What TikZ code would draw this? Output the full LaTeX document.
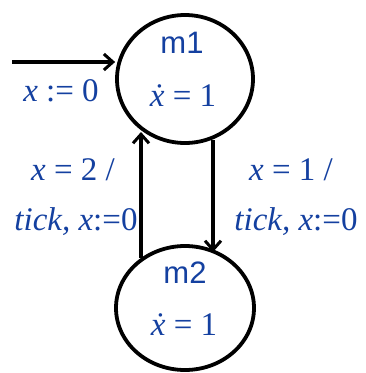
\documentclass[tikz,border=0pt]{standalone}
\usepackage{fontspec}
\setmainfont{Liberation Serif}
\newfontfamily\labsans{Liberation Sans}
\usetikzlibrary{arrows.meta,shapes.geometric}
\definecolor{lblue}{RGB}{20,64,160}
\tikzset{
  st/.style={draw=black, line width=3.8pt, ellipse, minimum width=136pt, minimum height=128pt, inner sep=0pt},
  conn/.style={line width=3.8pt, -{Straight Barb[length=9pt,width=16pt,line width=3pt]}},
  lab/.style={text=lblue, font=\fontsize{33}{34}\selectfont\itshape, inner sep=0pt},
  nm/.style={text=lblue, font=\fontsize{31}{34}\labsans, inner sep=0pt},
}
\begin{document}
\begin{tikzpicture}[x=1pt,y=-1pt]
\useasboundingbox (0,0) rectangle (365,373);
\node[st] (m1) at (185,79) {};
\node[st, minimum width=138pt, minimum height=124pt] (m2) at (185,308) {};
\node[nm] (m1n) at (182,43) {m1};
\node[lab] (m1f) at (183,96) {\.{x} {\upshape=} {\upshape 1}};
\node[nm] (m2n) at (185,273) {m2};
\node[lab] (m2f) at (184,325) {\.{x} {\upshape=} {\upshape 1}};
\coordinate (init) at (12,62);
\draw[conn] (init) -- (m1.west |- init);
\node[lab] (il) at (61,91) {x {\upshape :=} {\upshape 0}};
\coordinate (la) at (141,132);
\coordinate (lb) at (141,258);
\draw[conn] (lb) -- (la);
\coordinate (ra) at (213,140);
\coordinate (rb) at (213,252);
\draw[conn] (ra) -- (rb);
\node[lab] (l1) at (73,170) {x {\upshape = 2 /}};
\node[lab] (l2) at (76,222) {tick, x{\upshape :=0}};
\node[lab] (r1) at (291,170) {x {\upshape = 1 /}};
\node[lab] (r2) at (296,222) {tick, x{\upshape :=0}};
\end{tikzpicture}
\end{document}
